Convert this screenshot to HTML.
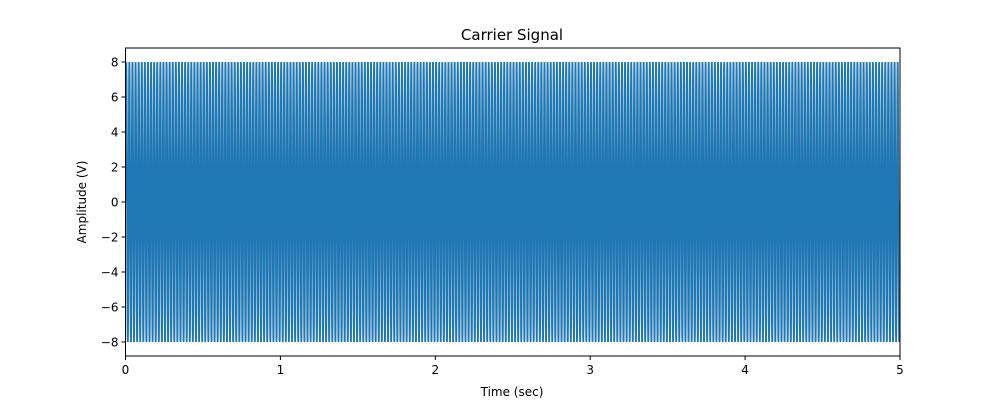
<!DOCTYPE html>
<html><head><meta charset="utf-8"><style>
body{margin:0;background:#fff}
svg text{font-family:"DejaVu Sans","Liberation Sans",sans-serif;fill:#000}
</style></head><body>
<svg id="chart" width="1000" height="400">
<rect width="1000" height="400" fill="#fff"/>
<g id="plot"></g>
<text x="512" y="40" font-size="15" text-anchor="middle">Carrier Signal</text>
<text x="512" y="396" font-size="12" text-anchor="middle">Time (sec)</text>
<text transform="translate(86,202) rotate(-90)" font-size="12" text-anchor="middle">Amplitude (V)</text>
</svg>
<script>
const xTicks=[0,1,2,3,4,5];
const yTicks=[-8,-6,-4,-2,0,2,4,6,8];
const amplitude=[8];
const carrierFreq=[50];
const duration=[5];
const sampleRate=[2000];
const L=125.5,R=900,T=48,B=356;
const xMin=0,xMax=5,yMin=-8.8,yMax=8.8;
const sx=v=>L+(v-xMin)/(xMax-xMin)*(R-L);
const sy=v=>B-(v-yMin)/(yMax-yMin)*(B-T);
const NS='http://www.w3.org/2000/svg';
const g=document.getElementById('plot');
function mk(t,a){const e=document.createElementNS(NS,t);for(const k in a)e.setAttribute(k,a[k]);g.appendChild(e);return e;}
const cp=mk('clipPath',{id:'clip'});
const cr=document.createElementNS(NS,'rect');cr.setAttribute('x',L);cr.setAttribute('y',T);cr.setAttribute('width',R-L);cr.setAttribute('height',B-T);cp.appendChild(cr);
const n=Math.round(duration[0]*sampleRate[0]);
let pts=[];
for(let i=0;i<=n;i++){const t=i/sampleRate[0];const v=amplitude[0]*Math.sin(2*Math.PI*carrierFreq[0]*t);pts.push(sx(t).toFixed(2)+','+sy(v).toFixed(2));}
const line=mk('polyline',{points:pts.join(' '),fill:'none',stroke:'#1f77b4','stroke-width':1.8,'clip-path':'url(#clip)'});


const frame=mk('rect',{x:L,y:T,width:R-L,height:B-T,fill:'none',stroke:'#000','stroke-width':1});


xTicks.forEach(v=>{
 const tk=mk('line',{x1:sx(v),x2:sx(v),y1:B,y2:B+4,stroke:'#000'});
 
 
 const tx=mk('text',{x:sx(v),y:B+18,'font-size':12,'text-anchor':'middle'});tx.textContent=v;
 
 
});
yTicks.forEach(v=>{
 const tk=mk('line',{x1:L-4,x2:L,y1:sy(v),y2:sy(v),stroke:'#000'});
 
 
 const tx=mk('text',{x:L-7,y:sy(v)+4.5,'font-size':12,'text-anchor':'end'});tx.textContent=(v<0?'\u2212'+(-v):v);
 
 
});
</script>
</body></html>
